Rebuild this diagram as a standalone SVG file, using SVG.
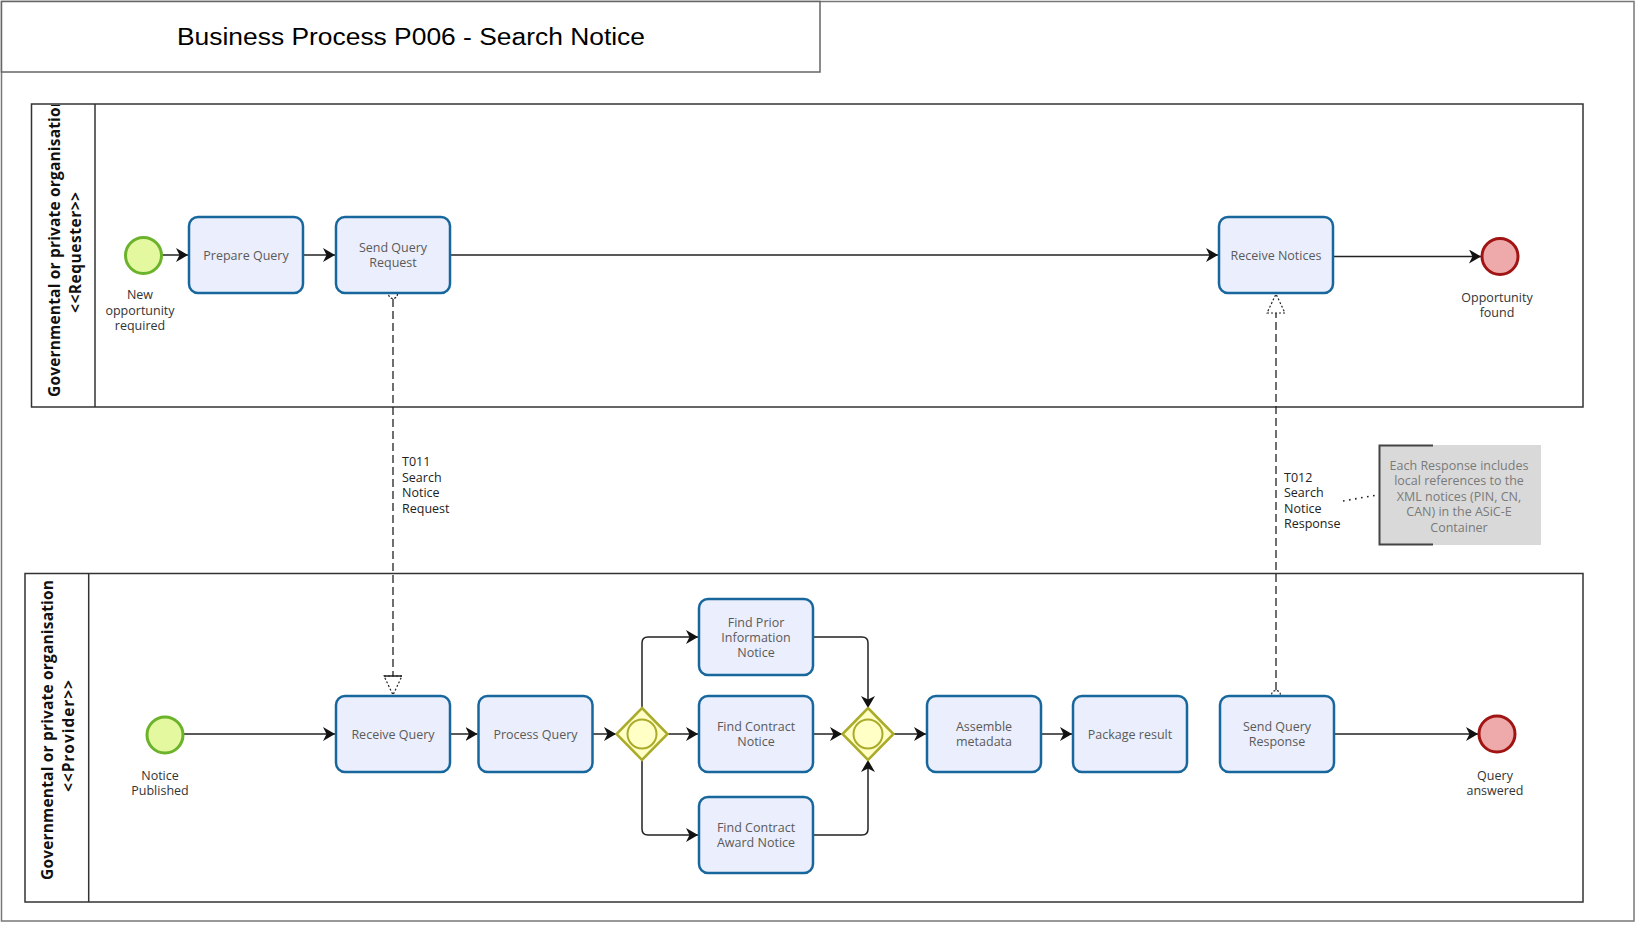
<svg xmlns="http://www.w3.org/2000/svg" width="1642" height="932" viewBox="0 0 1642 932">
<style>
.task{fill:#ebeefc;stroke:#17679d;stroke-width:2.5}
.tt{font-family:"Open Sans","Noto Sans",sans-serif;font-size:12.5px;fill:#5a5a5a;text-anchor:middle}
.lbl{font-family:"Open Sans","Noto Sans",sans-serif;font-size:12.5px;fill:#333;text-anchor:middle}
.msg{font-family:"Open Sans","Noto Sans",sans-serif;font-size:12.5px;fill:#222}
.ann{font-family:"Open Sans","Noto Sans",sans-serif;font-size:12.5px;fill:#7a7a7a;text-anchor:middle}
.lane{fill:none;stroke:#333;stroke-width:1.5}
.lt{font-family:"Open Sans","Noto Sans",sans-serif;font-size:15.5px;font-weight:bold;fill:#111}
.start{fill:#e4f8a0;stroke:#6bb32a;stroke-width:3}
.end{fill:#eeaaaa;stroke:#a11414;stroke-width:3}
.gw{fill:#ffffc6;stroke:#abab2b;stroke-width:2.5}
.gwc{fill:#ffffc6;stroke:#abab2b;stroke-width:2}
.flow{fill:none;stroke:#222;stroke-width:1.5;marker-end:url(#arr)}
.mf{fill:none;stroke:#222;stroke-width:1.3;stroke-dasharray:8,4}
.dot{fill:#fff;stroke:#222;stroke-width:1.2;stroke-dasharray:2,1.6}
</style>
<defs>
<marker id="arr" viewBox="0 0 12 14" refX="12" refY="7" markerWidth="12" markerHeight="14" markerUnits="userSpaceOnUse" orient="auto">
<path d="M0,0 L12,7 L0,14 L3.5,7 Z" fill="#111"/>
</marker>
<clipPath id="clipReq"><rect x="32" y="105" width="62" height="301"/></clipPath>
<clipPath id="clipProv"><rect x="26" y="574" width="62" height="327"/></clipPath>
</defs>
<rect x="0" y="0" width="1642" height="932" fill="#fff"/>
<rect x="1.5" y="1.5" width="1632.5" height="919.5" fill="none" stroke="#777" stroke-width="1.5"/>
<g id="title">
<rect x="1.5" y="1.5" width="818.5" height="70.5" fill="#fff" stroke="#666" stroke-width="1.5"/>
<text x="177" y="45" font-family="Liberation Sans, Arial, sans-serif" font-size="23" fill="#000" textLength="468" lengthAdjust="spacingAndGlyphs">Business Process P006 - Search Notice</text>
</g>
<g id="lane-requester">
<rect class="lane" x="31.5" y="104" width="1551.5" height="303"/>
<line class="lane" x1="95" y1="104" x2="95" y2="407"/>
<g clip-path="url(#clipReq)">
<text class="lt" transform="translate(60,397) rotate(-90)" textLength="300" lengthAdjust="spacing">Governmental or private organisation</text>
<text class="lt" transform="translate(81,313) rotate(-90)" textLength="121" lengthAdjust="spacing">&lt;&lt;Requester&gt;&gt;</text>
</g>
</g>
<g id="lane-provider">
<rect class="lane" x="25" y="573.5" width="1558" height="328.5"/>
<line class="lane" x1="88.7" y1="573.5" x2="88.7" y2="902"/>
<g clip-path="url(#clipProv)">
<text class="lt" transform="translate(53,880) rotate(-90)" textLength="300" lengthAdjust="spacing">Governmental or private organisation</text>
<text class="lt" transform="translate(74,792) rotate(-90)" textLength="112" lengthAdjust="spacing">&lt;&lt;Provider&gt;&gt;</text>
</g>
</g>
<g id="connectors">
<line class="flow" x1="162" y1="255" x2="188" y2="255"/>
<line class="flow" x1="304" y1="255" x2="335" y2="255"/>
<line class="flow" x1="450" y1="255" x2="1218" y2="255"/>
<line class="flow" x1="1333" y1="256.5" x2="1481" y2="256.5"/>
<line class="flow" x1="184" y1="734" x2="335" y2="734"/>
<line class="flow" x1="450" y1="734" x2="477.5" y2="734"/>
<line class="flow" x1="592.5" y1="734" x2="616" y2="734"/>
<line class="flow" x1="667" y1="734" x2="698" y2="734"/>
<path class="flow" d="M642,708 V643 Q642,637 648,637 H698"/>
<path class="flow" d="M642,760 V829 Q642,835 648,835 H698"/>
<path class="flow" d="M814,637 H862 Q868,637 868,643 V708"/>
<line class="flow" x1="814" y1="734" x2="842" y2="734"/>
<path class="flow" d="M814,835 H862 Q868,835 868,829 V760"/>
<line class="flow" x1="893" y1="734" x2="926" y2="734"/>
<line class="flow" x1="1041" y1="734" x2="1072" y2="734"/>
<line class="flow" x1="1335" y1="734" x2="1478" y2="734"/>
<g id="msg-T011">
<line class="mf" x1="393" y1="299" x2="393" y2="676"/>
<circle class="dot" cx="393" cy="294" r="4.5"/>
<polygon points="384,676 402,676 393,695" fill="#fff" stroke="#222" stroke-width="1.2" stroke-dasharray="2,2"/>
<line x1="384" y1="676" x2="402" y2="676" stroke="#222" stroke-width="1.5"/>
</g>
<g id="msg-T012">
<line class="mf" x1="1276" y1="690" x2="1276" y2="313"/>
<circle class="dot" cx="1276" cy="695" r="4.5"/>
<polygon points="1267,313 1285,313 1276,294" fill="#fff" stroke="#222" stroke-width="1.2" stroke-dasharray="2,2"/>
</g>
<line x1="1343" y1="501" x2="1377" y2="495" stroke="#222" stroke-width="1.6" stroke-dasharray="1.6,4.5"/>
</g>
<g id="ev-new-opportunity">
<circle class="start" cx="143.5" cy="255.5" r="18"/>
<text class="lbl" x="140" y="299">New</text>
<text class="lbl" x="140" y="314.5">opportunity</text>
<text class="lbl" x="140" y="330">required</text>
</g>
<g id="t-prepare-query">
<rect class="task" x="189" y="217" width="114" height="76" rx="9"/>
<text class="tt" x="246" y="259.5">Prepare Query</text>
</g>
<g id="t-send-query-request">
<rect class="task" x="336" y="217" width="114" height="76" rx="9"/>
<text class="tt" x="393" y="252">Send Query</text>
<text class="tt" x="393" y="267">Request</text>
</g>
<g id="t-receive-notices">
<rect class="task" x="1219" y="217" width="114" height="76" rx="9"/>
<text class="tt" x="1276" y="259.5">Receive Notices</text>
</g>
<g id="ev-opportunity-found">
<circle class="end" cx="1500" cy="256.5" r="18"/>
<text class="lbl" x="1497" y="301.5">Opportunity</text>
<text class="lbl" x="1497" y="316.5">found</text>
</g>
<g id="lbl-T011">
<text class="msg" x="402" y="466">T011</text>
<text class="msg" x="402" y="481.5">Search</text>
<text class="msg" x="402" y="497">Notice</text>
<text class="msg" x="402" y="512.5">Request</text>
</g>
<g id="lbl-T012">
<text class="msg" x="1284" y="481.5">T012</text>
<text class="msg" x="1284" y="497">Search</text>
<text class="msg" x="1284" y="512.5">Notice</text>
<text class="msg" x="1284" y="528">Response</text>
</g>
<g id="annotation">
<rect x="1379" y="445" width="162" height="100" fill="#d9d9d9"/>
<path d="M1433,445.5 H1379.5 V544.5 H1433" fill="none" stroke="#444" stroke-width="2"/>
<text class="ann" x="1459" y="469.5">Each Response includes</text>
<text class="ann" x="1459" y="485">local references to the</text>
<text class="ann" x="1459" y="500.5">XML notices (PIN, CN,</text>
<text class="ann" x="1459" y="516">CAN) in the ASiC-E</text>
<text class="ann" x="1459" y="531.5">Container</text>
</g>
<g id="ev-notice-published">
<circle class="start" cx="165" cy="735" r="18"/>
<text class="lbl" x="160" y="779.5">Notice</text>
<text class="lbl" x="160" y="795">Published</text>
</g>
<g id="t-receive-query">
<rect class="task" x="336" y="696" width="114" height="76" rx="9"/>
<text class="tt" x="393" y="738.5">Receive Query</text>
</g>
<g id="t-process-query">
<rect class="task" x="478.5" y="696" width="114" height="76" rx="9"/>
<text class="tt" x="535.5" y="738.5">Process Query</text>
</g>
<g id="gw-split">
<polygon class="gw" points="642,708 667.5,734 642,760 616.5,734"/>
<circle class="gwc" cx="642" cy="734" r="14.5"/>
</g>
<g id="t-find-pin">
<rect class="task" x="699" y="599" width="114" height="76" rx="9"/>
<text class="tt" x="756" y="626.5">Find Prior</text>
<text class="tt" x="756" y="641.5">Information</text>
<text class="tt" x="756" y="656.5">Notice</text>
</g>
<g id="t-find-cn">
<rect class="task" x="699" y="696" width="114" height="76" rx="9"/>
<text class="tt" x="756" y="731">Find Contract</text>
<text class="tt" x="756" y="746">Notice</text>
</g>
<g id="t-find-can">
<rect class="task" x="699" y="797" width="114" height="76" rx="9"/>
<text class="tt" x="756" y="832">Find Contract</text>
<text class="tt" x="756" y="847">Award Notice</text>
</g>
<g id="gw-join">
<polygon class="gw" points="868,708 893.5,734 868,760 842.5,734"/>
<circle class="gwc" cx="868" cy="734" r="14.5"/>
</g>
<g id="t-assemble-metadata">
<rect class="task" x="927" y="696" width="114" height="76" rx="9"/>
<text class="tt" x="984" y="731">Assemble</text>
<text class="tt" x="984" y="746">metadata</text>
</g>
<g id="t-package-result">
<rect class="task" x="1073" y="696" width="114" height="76" rx="9"/>
<text class="tt" x="1130" y="738.5">Package result</text>
</g>
<g id="t-send-query-response">
<rect class="task" x="1220" y="696" width="114" height="76" rx="9"/>
<text class="tt" x="1277" y="731">Send Query</text>
<text class="tt" x="1277" y="746">Response</text>
</g>
<g id="ev-query-answered">
<circle class="end" cx="1497" cy="734" r="18"/>
<text class="lbl" x="1495" y="779.5">Query</text>
<text class="lbl" x="1495" y="794.5">answered</text>
</g>
</svg>
